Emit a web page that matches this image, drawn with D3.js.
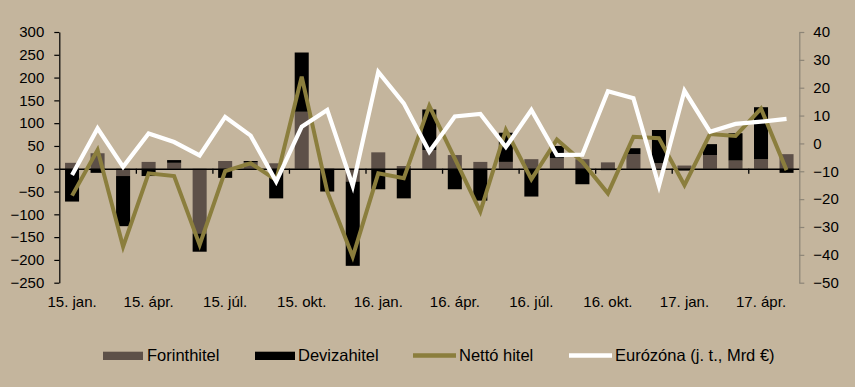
<!DOCTYPE html>
<html><head><meta charset="utf-8">
<script src="https://cdn.jsdelivr.net/npm/d3@7"></script>
<style>
html,body{margin:0;padding:0;background:#c4b59d;}
svg{display:block;font-family:"Liberation Sans",Arial,sans-serif;}
</style></head>
<body><svg id="c" width="855" height="387"></svg>
<script>
// ---- data ----
const months = ["15. jan.","15. febr.","15. márc.","15. ápr.","15. máj.","15. jún.","15. júl.","15. aug.","15. szept.","15. okt.","15. nov.","15. dec.",
  "16. jan.","16. febr.","16. márc.","16. ápr.","16. máj.","16. jún.","16. júl.","16. aug.","16. szept.","16. okt.","16. nov.","16. dec.",
  "17. jan.","17. febr.","17. márc.","17. ápr.","17. máj."];
const forint = [13, 34, -16, 15, 13, -142, 17, 14, 12, 125, 0, -28, 36, 6, 41, 30, 15, 15, 21, 23, 21, 14, 32, 12, 7, 30, 18, 21, 32];
const deviza = [-72, -9, -110, -16, 6, -40, -20, 3, -65, 130, -50, -185, -45, -65, 89, -45, -70, 64, -61, 27, -34, -3, 13, 73, -4, 24, 60, 114, -9];
const netto = [-59, 41, -171, -10, -16, -167, -5, 12, -25, 202, -50, -193, -10, -21, 138, 22, -94, 85, -23, 64, 15, -54, 70, 67, -36, 76, 72, 132, -3];
const eurozona = [-11.3, 5.4, -8.4, 3.6, 0.5, -4.3, 9.5, 2.8, -13.7, 6, 12, -15.3, 25.7, 14.4, -3, 9.7, 10.6, -1.3, 12, -4.2, -4, 18.7, 16.2, -15.3, 18.9, 4.2, 7, 7.8, 8.8];
const leftTicks = [-250,-200,-150,-100,-50,0,50,100,150,200,250,300];
const rightTicks = [-50,-40,-30,-20,-10,0,10,20,30,40];
const xLabelIdx = [0,3,6,9,12,15,18,21,24,27];
const seriesNames = ["Forinthitel","Devizahitel","Nettó hitel","Eurózóna (j. t., Mrd €)"];

// ---- styles ----
const C = {bg:"#c4b59d", forint:"#5d5048", deviza:"#000000", netto:"#8b7e3d", euro:"#ffffff", raxis:"#8d8577"};
const svg = d3.select("#c");
const X0 = 59.3, X1 = 799.3, YT = 32, YB = 282.7;

const x = d3.scaleBand().domain(d3.range(months.length)).range([X0, X1]).paddingInner(0.45).paddingOuter(0.225);
const xb = d3.scaleLinear().domain([0, months.length]).range([X0, X1]);
const yL = d3.scaleLinear().domain([-250, 300]).range([YB, YT]);
const yR = d3.scaleLinear().domain([-50, 40]).range([YB, YT]);

svg.append("rect").attr("width",855).attr("height",387).attr("fill",C.bg);

// stacked bars
const rows = months.map((m,i)=>({i, forint:forint[i], deviza:deviza[i]}));
const stack = d3.stack().keys(["forint","deviza"]).offset(d3.stackOffsetDiverging)(rows);
const colors = {forint:C.forint, deviza:C.deviza};
svg.append("g").selectAll("g").data(stack).join("g").attr("fill", d=>colors[d.key])
  .selectAll("rect").data(d=>d).join("rect")
  .attr("x", d=>x(d.data.i)).attr("width", x.bandwidth())
  .attr("y", d=>yL(Math.max(d[0],d[1]))).attr("height", d=>Math.abs(yL(d[0])-yL(d[1])));

// zero axis with quarter ticks
const gz = svg.append("g").attr("transform",`translate(0,${yL(0)})`)
  .call(d3.axisBottom(xb).tickValues(d3.range(3, months.length, 3)).tickFormat("").tickSize(5).tickSizeOuter(0));
gz.selectAll("path,line").attr("stroke","#000").attr("stroke-width",1.3);

// x labels
const gx = svg.append("g").attr("transform",`translate(0,293)`)
  .call(d3.axisBottom(x).tickValues(xLabelIdx).tickFormat(i=>months[i]).tickSize(0).tickPadding(3));
gx.select(".domain").remove();
gx.selectAll("text").attr("font-size",15).attr("fill","#000").attr("font-family","Liberation Sans, Arial, sans-serif");

// left axis
const gl = svg.append("g").attr("transform",`translate(${X0},0)`)
  .call(d3.axisLeft(yL).tickValues(leftTicks).tickSize(5).tickSizeOuter(0).tickPadding(10));
gl.selectAll("path,line").attr("stroke","#000").attr("stroke-width",1.2);
gl.selectAll("text").attr("font-size",15).attr("fill","#000").attr("font-family","Liberation Sans, Arial, sans-serif");

// right axis
const gr = svg.append("g").attr("transform",`translate(${X1},0)`)
  .call(d3.axisRight(yR).tickValues(rightTicks).tickSize(5).tickSizeOuter(0).tickPadding(9));
gr.selectAll("path,line").attr("stroke",C.raxis).attr("stroke-width",1.2);
gr.selectAll("text").attr("font-size",15).attr("fill","#000").attr("font-family","Liberation Sans, Arial, sans-serif");

// lines
const cx = i => x(i) + x.bandwidth()/2;
svg.append("path").datum(netto).attr("fill","none").attr("stroke",C.netto).attr("stroke-width",4)
  .attr("stroke-linejoin","miter")
  .attr("d", d3.line().x((d,i)=>cx(i)).y(d=>yL(d)));
svg.append("path").datum(eurozona).attr("fill","none").attr("stroke",C.euro).attr("stroke-width",4.2)
  .attr("stroke-linejoin","miter")
  .attr("d", d3.line().x((d,i)=>cx(i)).y(d=>yR(d)));

// legend
const lg = svg.append("g").attr("font-size",16.5).attr("fill","#000");
const legendItems = [
  {name:seriesNames[0], type:"rect", color:C.forint, x:103, tx:147},
  {name:seriesNames[1], type:"rect", color:C.deviza, x:255, tx:298},
  {name:seriesNames[2], type:"line", color:C.netto, x:413, tx:459},
  {name:seriesNames[3], type:"line", color:C.euro, x:569, tx:615}
];
legendItems.forEach(it=>{
  if(it.type==="rect"){
    lg.append("rect").attr("x",it.x).attr("y",351.7).attr("width",40).attr("height",8.3).attr("fill",it.color);
  } else {
    lg.append("line").attr("x1",it.x).attr("x2",it.x+43).attr("y1",355.5).attr("y2",355.5)
      .attr("stroke",it.color).attr("stroke-width",4.5);
  }
  lg.append("text").attr("x",it.tx).attr("y",361).text(it.name);
});
</script></body></html>
